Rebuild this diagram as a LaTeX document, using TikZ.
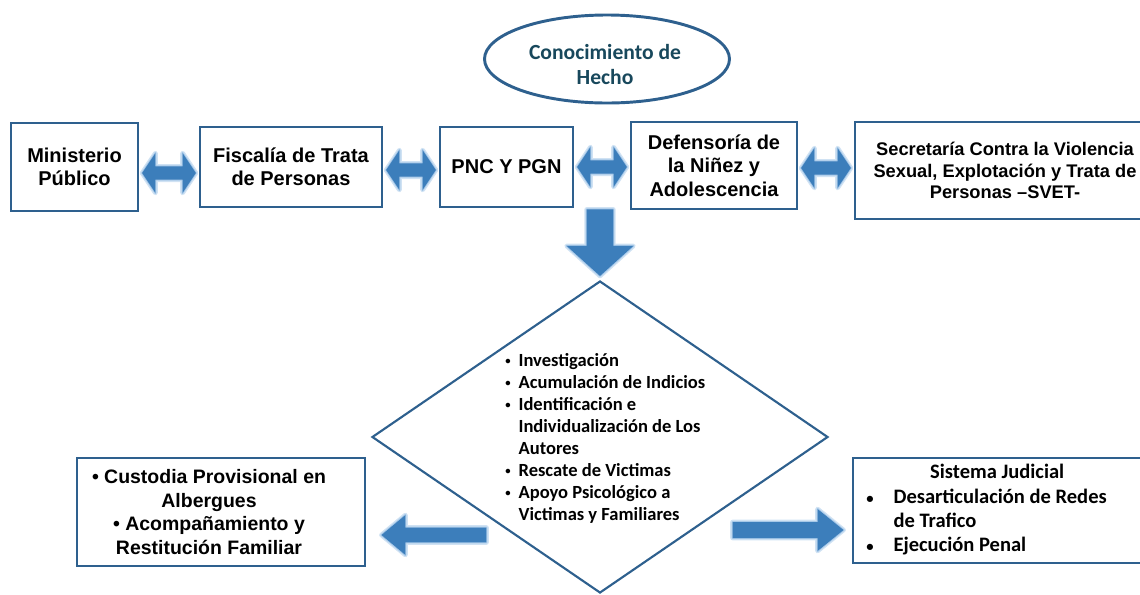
\documentclass[tikz,border=0pt]{standalone}
\usepackage{fontspec}
\setmainfont{Liberation Sans}
\newfontfamily\calib{Carlito}
\usetikzlibrary{shapes.geometric,calc}
\definecolor{boxblue}{RGB}{46,96,142}
\definecolor{arrowblue}{RGB}{60,126,187}
\definecolor{glowblue}{RGB}{150,190,228}
\definecolor{tealtext}{RGB}{24,72,92}
\newdimen\px \px=0.75pt
\newcommand\smbul{\raisebox{0.25ex}{\fontsize{8pt}{8pt}\selectfont\textbullet}}
\newcommand\hdbl[3]{%
  \path[barrow] let \p1=#1, \p2=#2, \p3=(0,#3) in
    (\x1+2pt,\y3) -- (\x1+12pt,\y3+15pt) -- (\x1+12pt,\y3+5pt) -- (\x2-12pt,\y3+5pt)
    -- (\x2-12pt,\y3+15pt) -- (\x2-2pt,\y3) -- (\x2-12pt,\y3-15pt) -- (\x2-12pt,\y3-5pt)
    -- (\x1+12pt,\y3-5pt) -- (\x1+12pt,\y3-15pt) -- cycle;}
\begin{document}
\begin{tikzpicture}[x=0.75pt,y=-0.75pt,
  box/.style={draw=boxblue, line width=2.2pt, fill=white, inner sep=0pt, align=center,
    font=\bfseries\fontsize{15pt}{17.5pt}\selectfont},
  barrow/.style={fill=arrowblue,
    preaction={draw=glowblue, line width=3.5pt, line join=round, opacity=0.45},
    preaction={draw=glowblue, line width=1.5pt, line join=round, opacity=0.7}},
  calibtext/.style={font=\calib\bfseries\fontsize{13.9pt}{16.5pt}\selectfont, inner sep=0pt}]
\useasboundingbox (0,0) rectangle (1140,594);
\clip (0,0) rectangle (1140,594);

% top ellipse
\node[ellipse, draw=boxblue, line width=2.2pt, minimum width=245\px, minimum height=88\px, inner sep=0pt] (ell) at (607,59) {};
\node[font=\calib\bfseries\fontsize{16.2pt}{18.75pt}\selectfont, text=tealtext, align=center, inner sep=0pt] (elltext) at (605,64) {Conocimiento de\\Hecho};

% top row of boxes
\node[box, minimum width=127\px, minimum height=88\px] (mp) at (74.5,167) {Ministerio\\Público};
\node[box, minimum width=182\px, minimum height=80\px] (fis) at (291,167) {Fiscalía de Trata\\de Personas};
\node[box, minimum width=133\px, minimum height=80\px] (pnc) at (506.5,167) {PNC Y PGN};
\node[box, minimum width=166\px, minimum height=87\px] (def) at (714,165.5) {Defensoría de\\la Niñez y\\Adolescencia};
\node[box, minimum width=300\px, minimum height=97\px, font=\bfseries\fontsize{13.7pt}{16.3pt}\selectfont] (sec) at (1005,170.5) {Secretaría Contra la Violencia\\Sexual, Explotación y Trata de\\Personas –SVET-};

% double arrows
\hdbl{(mp.east)}{(fis.west)}{173}
\hdbl{(fis.east)}{(pnc.west)}{170}
\hdbl{(pnc.east)}{(def.west)}{167}
\hdbl{(def.east)}{(sec.west)}{168}

% diamond
\node[diamond, draw=boxblue, line width=1.6pt, minimum width=456\px, minimum height=312\px, inner sep=0pt] (diam) at (600,437) {};
\node[calibtext, anchor=west] (dtext) at (505,439.5) {%
  \begin{tabular}{@{}l@{\hspace{6pt}}l@{}}
  \smbul & Investigación\\
  \smbul & Acumulación de Indicios\\
  \smbul & Identificación e\\
         & Individualización de Los\\
         & Autores\\
  \smbul & Rescate de Victimas\\
  \smbul & Apoyo Psicológico a\\
         & Victimas y Familiares
  \end{tabular}};

% down arrow
\path[barrow] let \p1=(pnc.south), \p2=(diam.north) in
  (\x2-10pt,\y1-0.75pt) -- (\x2+10pt,\y1-0.75pt) -- (\x2+10pt,\y2+25.5pt) -- (\x2+25pt,\y2+25.5pt)
  -- (\x2,\y2+3pt) -- (\x2-25pt,\y2+25.5pt) -- (\x2-10pt,\y2+25.5pt) -- cycle;

% bottom boxes
\node[box, minimum width=288\px, minimum height=108\px] (lbox) at (221,512) {};
\node[inner sep=0pt, align=center, font=\bfseries\fontsize{14.6pt}{17.8pt}\selectfont] (ltext) at (209,512)
  {\textbullet{} Custodia Provisional en\\Albergues\\\textbullet{} Acompañamiento y\\Restitución Familiar};
\node[box, minimum width=298\px, minimum height=105\px] (rbox) at (1002,510.5) {};
\node[inner sep=0pt, anchor=west, font=\calib\bfseries\fontsize{15.4pt}{18.2pt}\selectfont] (rtext) at (866,510.5) {%
  \begin{tabular}{@{}l@{\hspace{15pt}}l@{}}
  \multicolumn{2}{c}{\hspace{16pt}Sistema Judicial}\\
  {\fontsize{11pt}{11pt}\selectfont\textbullet} & Desarticulación de Redes\\
              & de Trafico\\
  {\fontsize{11pt}{11pt}\selectfont\textbullet} & Ejecución Penal
  \end{tabular}};

% side arrows
\path[barrow] let \p1=(lbox.east), \p3=(0,535) in
  (\x1+11.25pt,\y3) -- (\x1+29.25pt,\y3+15pt) -- (\x1+29.25pt,\y3+5.6pt) -- (\x1+90pt,\y3+5.6pt)
  -- (\x1+90pt,\y3-5.6pt) -- (\x1+29.25pt,\y3-5.6pt) -- (\x1+29.25pt,\y3-15pt) -- cycle;
\path[barrow] let \p1=(rbox.west), \p3=(0,530) in
  (\x1-6pt,\y3) -- (\x1-25.5pt,\y3+15.75pt) -- (\x1-25.5pt,\y3+6pt) -- (\x1-89.25pt,\y3+6pt)
  -- (\x1-89.25pt,\y3-6pt) -- (\x1-25.5pt,\y3-6pt) -- (\x1-25.5pt,\y3-15.75pt) -- cycle;
\end{tikzpicture}
\end{document}
